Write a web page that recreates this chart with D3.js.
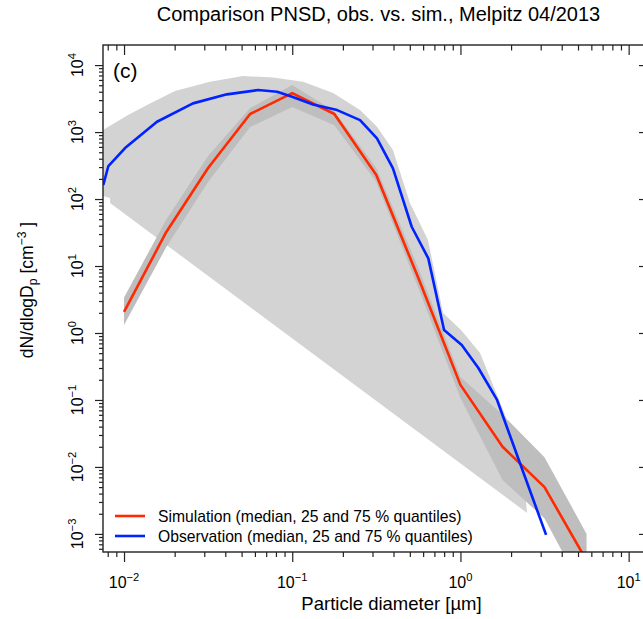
<!DOCTYPE html>
<html>
<head>
<meta charset="utf-8">
<script src="https://cdn.jsdelivr.net/npm/d3@7"></script>
<style>
  body { margin: 0; background: #fff; }
  svg { display: block; font-family: "Liberation Sans", Arial, sans-serif; }
</style>
</head>
<body>
<script>
// Simulation: median and 25/75 % quantiles (diameter in µm, dN/dlogDp in cm^-3)
const simD   = [0.01, 0.0178, 0.0316, 0.0562, 0.1, 0.178, 0.316, 0.562, 1, 1.78, 3.16, 5.62];
const simMed = [2.06, 32, 290, 1860, 3820, 1860, 229, 6.6, 0.168, 0.020, 0.005, 0.0004];
const simQ75 = [3.4, 49, 440, 2280, 5050, 2050, 290, 9.3, 0.22, 0.060, 0.014, 0.001];
const simQ25 = [1.32, 19, 180, 1190, 2360, 1260, 180, 4.7, 0.107, 0.0064, 0.0017, 0.000115];

// Observation median
const obsD   = [0.00753, 0.00807, 0.01014, 0.0157, 0.0257, 0.0409, 0.0626, 0.0813, 0.0998, 0.133, 0.185,
                0.253, 0.319, 0.397, 0.513, 0.644, 0.799, 1.018, 1.278, 1.651, 2.26, 3.23];
const obsMed = [162, 311, 577, 1426, 2682, 3656, 4236, 3993, 3365, 2588, 2128,
                1510, 805, 287, 38.6, 13.0, 1.11, 0.662, 0.300, 0.100, 0.01135, 0.000966];

// Observation 75 % quantile (upper edge of the light band)
const obsUpD = [0.0075, 0.01057, 0.0137, 0.0201, 0.0324, 0.051, 0.0769, 0.116, 0.175, 0.253, 0.319,
                0.397, 0.501, 0.641, 0.788, 1.008, 1.308, 1.97, 2.32, 2.49];
const obsUpN = [1072, 1795, 2530, 4090, 5640, 6860, 6550, 5640, 3820, 2128, 1200,
                539, 87, 24.4, 1.99, 1.11, 0.503, 0.0395, 0.0127, 0.00206];

// Observation 25 % quantile (only a few bins are non-zero)
const obsLoD = [0.0075, 0.00826, 0.00826, 2.49];
const obsLoN = [111, 103.5, 87.1, 0.00206];

const xMajor = [0.01, 0.1, 1, 10];
const xMajorExp = ["\u22122", "\u22121", "0", "1"];
const yMajor = [1e-3, 1e-2, 1e-1, 1, 10, 100, 1e3, 1e4];
const yMajorExp = ["\u22123", "\u22122", "\u22121", "0", "1", "2", "3", "4"];

const legendLabels = ["Simulation (median, 25 and 75 % quantiles)", "Observation (median, 25 and 75 % quantiles)"];
const legendColors = ["#ff2a00", "#0022ff"];

const width = 643, height = 619;
const pLeft = 103, pRight = 648, pTop = 45, pBottom = 552;

const x = d3.scaleLog().domain([Math.pow(10, -2.125), Math.pow(10, 1.115)]).range([pLeft, pRight]);
const y = d3.scaleLog().domain([Math.pow(10, -3.27), Math.pow(10, 4.30)]).range([pBottom, pTop]);

// minor ticks 2..9 for every decade
const minorTicks = (lo, hi) => {
  const out = [];
  for (let e = Math.floor(Math.log10(lo)); e <= Math.ceil(Math.log10(hi)); e++) {
    for (let m = 2; m <= 9; m++) {
      const v = m * Math.pow(10, e);
      if (v >= lo && v <= hi) out.push(v);
    }
  }
  return out;
};
const xMinor = minorTicks(x.domain()[0], x.domain()[1]);
const yMinor = minorTicks(y.domain()[0], y.domain()[1]);

const svg = d3.select("body").append("svg")
  .attr("width", width)
  .attr("height", height);

svg.append("defs").append("clipPath").attr("id", "plotclip")
  .append("rect").attr("x", pLeft).attr("y", pTop).attr("width", pRight - pLeft).attr("height", pBottom - pTop);

const plot = svg.append("g").attr("clip-path", "url(#plotclip)");

// observation band
const obsBand = obsUpD.map((d, i) => [x(d), y(obsUpN[i])])
  .concat(obsLoD.map((d, i) => [x(d), y(obsLoN[i])]).reverse());
plot.append("path")
  .attr("d", d3.line()(obsBand))
  .attr("fill", "#d3d3d3");

// simulation band
const simBand = simD.map((d, i) => [x(d), y(simQ75[i])])
  .concat(simD.map((d, i) => [x(d), y(simQ25[i])]).reverse());
plot.append("path")
  .attr("d", d3.line()(simBand))
  .attr("fill", "#bebebe");

const line = d3.line().x(d => x(d[0])).y(d => y(d[1]));

plot.append("path")
  .attr("d", line(simD.map((d, i) => [d, simMed[i]])))
  .attr("fill", "none")
  .attr("stroke", legendColors[0])
  .attr("stroke-width", 2.6)
  .attr("stroke-linejoin", "round");

plot.append("path")
  .attr("d", line(obsD.map((d, i) => [d, obsMed[i]])))
  .attr("fill", "none")
  .attr("stroke", legendColors[1])
  .attr("stroke-width", 2.6)
  .attr("stroke-linejoin", "round");

// axes
const axisColor = "#222";
const styleAxis = g => {
  g.select(".domain").remove();
  g.selectAll("line").attr("stroke", axisColor).attr("stroke-width", 1.2);
};

svg.append("g").attr("transform", `translate(0,${pBottom})`)
  .call(d3.axisBottom(x).tickValues(xMinor).tickSize(5).tickFormat("")).call(styleAxis);
svg.append("g").attr("transform", `translate(0,${pBottom})`)
  .call(d3.axisBottom(x).tickValues(xMajor).tickSize(10).tickFormat("")).call(styleAxis);
svg.append("g").attr("transform", `translate(0,${pTop})`)
  .call(d3.axisTop(x).tickValues(xMinor).tickSize(-5.5).tickFormat("")).call(styleAxis);
svg.append("g").attr("transform", `translate(0,${pTop})`)
  .call(d3.axisTop(x).tickValues(xMajor).tickSize(-10).tickFormat("")).call(styleAxis);
svg.append("g").attr("transform", `translate(${pLeft},0)`)
  .call(d3.axisLeft(y).tickValues(yMinor).tickSize(4).tickFormat("")).call(styleAxis);
svg.append("g").attr("transform", `translate(${pLeft},0)`)
  .call(d3.axisLeft(y).tickValues(yMajor).tickSize(8).tickFormat("")).call(styleAxis);
svg.append("g").attr("transform", `translate(${pRight},0)`)
  .call(d3.axisRight(y).tickValues(yMajor).tickSize(-9).tickFormat("")).call(styleAxis);

svg.append("rect")
  .attr("x", pLeft).attr("y", pTop)
  .attr("width", pRight - pLeft).attr("height", pBottom - pTop)
  .attr("fill", "none")
  .attr("stroke", axisColor)
  .attr("stroke-width", 1.4);

// tick labels as 10^n
const xLab = svg.append("g")
  .selectAll("text")
  .data(xMajor)
  .join("text")
  .attr("x", d => x(d))
  .attr("y", 588)
  .attr("text-anchor", "middle")
  .style("font-size", "16px");
xLab.append("tspan").text("10");
xLab.append("tspan").attr("dy", -7).style("font-size", "11.2px").text((d, i) => xMajorExp[i]);

const yLab = svg.append("g")
  .selectAll("text")
  .data(yMajor)
  .join("text")
  .attr("transform", d => `translate(83,${y(d)}) rotate(-90)`)
  .attr("text-anchor", "middle")
  .style("font-size", "16px");
yLab.append("tspan").text("10");
yLab.append("tspan").attr("dy", -7).style("font-size", "11.2px").text((d, i) => yMajorExp[i]);

// titles
svg.append("text")
  .attr("x", (pLeft + pRight) / 2 + 3)
  .attr("y", 21)
  .attr("text-anchor", "middle")
  .style("font-size", "20px")
  .text("Comparison PNSD, obs. vs. sim., Melpitz 04/2013");

svg.append("text")
  .attr("x", (pLeft + pRight) / 2 + 16)
  .attr("y", 610)
  .attr("text-anchor", "middle")
  .style("font-size", "18.5px")
  .text("Particle diameter [µm]");

const yTitle = svg.append("text")
  .attr("transform", `translate(33,290) rotate(-90)`)
  .attr("text-anchor", "middle")
  .style("font-size", "17.5px");
yTitle.append("tspan").text("dN/dlogD");
yTitle.append("tspan").attr("dy", 4).style("font-size", "12.2px").text("p");
yTitle.append("tspan").attr("dy", -4).text(" [cm");
yTitle.append("tspan").attr("dy", -7.5).style("font-size", "12.2px").text("\u22123");
yTitle.append("tspan").attr("dy", 7.5).text(" ]");

svg.append("text")
  .attr("x", 113)
  .attr("y", 78)
  .style("font-size", "21px")
  .text("(c)");

// legend
const legend = svg.append("g")
  .selectAll("g")
  .data(legendLabels)
  .join("g")
  .attr("transform", (d, i) => `translate(115,${516 + i * 20})`);
legend.append("line")
  .attr("x1", 0).attr("x2", 30)
  .attr("stroke", (d, i) => legendColors[i])
  .attr("stroke-width", 2.6);
legend.append("text")
  .attr("x", 43)
  .attr("y", 5.5)
  .style("font-size", "15.7px")
  .text(d => d);
</script>
</body>
</html>
